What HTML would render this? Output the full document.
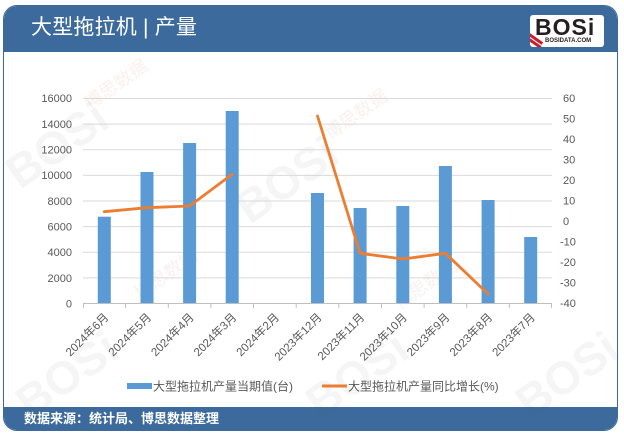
<!DOCTYPE html>
<html>
<head>
<meta charset="utf-8">
<style>
  html, body { margin:0; padding:0; background:#fff; }
  body { width:624px; height:435px; position:relative; overflow:hidden;
         font-family:"Liberation Sans","Noto Sans CJK SC",sans-serif; }
  .card { position:absolute; left:3px; top:5px; width:613px; height:424px;
          border:1px solid #3c6a9d; border-radius:14px; overflow:hidden; background:#fff; }
  .hdr { position:absolute; left:0; top:0; width:100%; height:46px; background:#3c6a9d; }
  .ftr { position:absolute; left:0; bottom:0; width:100%; height:23px; background:#3c6a9d; }
  .title { position:absolute; left:27px; top:7px; color:#fff; font-size:21px; line-height:30px;
           font-family:"Liberation Sans","Noto Sans CJK SC",sans-serif; letter-spacing:0.2px; }
  .src { position:absolute; left:20px; top:2px; color:#fff; font-size:13px; line-height:19px; font-weight:bold;
         font-family:"Liberation Sans","Noto Sans CJK SC",sans-serif; }
  .logo { position:absolute; left:526px; top:9px; width:74px; height:32px; background:#fff; border-radius:3px; overflow:hidden; }
  .logo .b { position:absolute; left:5px; top:0px; font-family:"Liberation Sans",sans-serif; font-weight:bold; font-size:23px;
             line-height:24px; color:#231f20; letter-spacing:1px; }
  .logo .c { position:absolute; left:15px; top:22px; font-family:"Liberation Sans",sans-serif; font-size:6px; font-weight:bold; color:#231f20; line-height:8px; }
  .logo .s { position:absolute; left:-4px; top:22px; width:18px; height:3px; background:#c8202f; transform:rotate(35deg); }
  .logo .s2 { position:absolute; left:-2px; top:27px; width:14px; height:3px; background:#c8202f; transform:rotate(35deg); }
  svg { position:absolute; left:0; top:0; }
</style>
</head>
<body>
<div class="card">
  <div class="hdr">
    <div class="title">大型拖拉机 | 产量</div>
    <div class="logo"><div class="b">BOSi</div><div class="c">BOSIDATA.COM</div><div class="s"></div><div class="s2"></div></div>
  </div>
  <div class="ftr"><div class="src">数据来源：统计局、博思数据整理</div></div>
</div>

<svg width="624" height="435" viewBox="0 0 624 435" xmlns="http://www.w3.org/2000/svg">
  <!-- faint watermarks -->
  <g opacity="0.06" font-family="Liberation Sans, sans-serif" font-weight="bold" fill="#555">
    <text x="20" y="190" font-size="46" transform="rotate(-35 20 190)">BOSi</text>
    <text x="250" y="225" font-size="46" transform="rotate(-35 250 225)">BOSi</text>
    <text x="30" y="420" font-size="46" transform="rotate(-35 30 420)">BOSi</text>
    <text x="320" y="420" font-size="46" transform="rotate(-35 320 420)">BOSi</text>
    <text x="530" y="420" font-size="46" transform="rotate(-35 530 420)">BOSi</text>
  </g>
  <g opacity="0.09" font-family="Liberation Sans, Noto Sans CJK SC, sans-serif" fill="#c0504d">
    <text x="90" y="110" font-size="18" transform="rotate(-35 90 110)">博思数据</text>
    <text x="330" y="140" font-size="18" transform="rotate(-35 330 140)">博思数据</text>
    <text x="140" y="300" font-size="18" transform="rotate(-35 140 300)">博思数据</text>
    <text x="400" y="310" font-size="18" transform="rotate(-35 400 310)">博思数据</text>
  </g>

  <!-- gridlines -->
  <g stroke="#d9d9d9" stroke-width="1">
    <line x1="83" y1="98.5" x2="552" y2="98.5"/>
    <line x1="83" y1="124.1" x2="552" y2="124.1"/>
    <line x1="83" y1="149.8" x2="552" y2="149.8"/>
    <line x1="83" y1="175.4" x2="552" y2="175.4"/>
    <line x1="83" y1="201" x2="552" y2="201"/>
    <line x1="83" y1="226.6" x2="552" y2="226.6"/>
    <line x1="83" y1="252.3" x2="552" y2="252.3"/>
    <line x1="83" y1="277.9" x2="552" y2="277.9"/>
  </g>
  <!-- bars -->
  <g fill="#5b9bd5">
    <rect x="97.8" y="216.7" width="13" height="86.3"/>
    <rect x="140.5" y="172" width="13" height="131"/>
    <rect x="183.1" y="143" width="13" height="160"/>
    <rect x="225.7" y="111" width="13" height="192"/>
    <rect x="311" y="193" width="13" height="110"/>
    <rect x="353.6" y="208" width="13" height="95"/>
    <rect x="396.3" y="206" width="13" height="97"/>
    <rect x="438.9" y="166" width="13" height="137"/>
    <rect x="481.6" y="200" width="13" height="103"/>
    <rect x="524.2" y="237" width="13" height="66"/>
  </g>
  <!-- axis -->
  <line x1="83" y1="303.5" x2="552" y2="303.5" stroke="#bfbfbf" stroke-width="1"/>
  <g stroke="#bfbfbf" stroke-width="1">
    <line x1="83.5" y1="303" x2="83.5" y2="308"/>
    <line x1="125.6" y1="303" x2="125.6" y2="308"/>
    <line x1="168.3" y1="303" x2="168.3" y2="308"/>
    <line x1="210.9" y1="303" x2="210.9" y2="308"/>
    <line x1="253.5" y1="303" x2="253.5" y2="308"/>
    <line x1="296.2" y1="303" x2="296.2" y2="308"/>
    <line x1="338.8" y1="303" x2="338.8" y2="308"/>
    <line x1="381.5" y1="303" x2="381.5" y2="308"/>
    <line x1="424.1" y1="303" x2="424.1" y2="308"/>
    <line x1="466.7" y1="303" x2="466.7" y2="308"/>
    <line x1="509.4" y1="303" x2="509.4" y2="308"/>
    <line x1="551.5" y1="303" x2="551.5" y2="308"/>
  </g>
  <!-- line series -->
  <g fill="none" stroke="#ed7d31" stroke-width="2.8" stroke-linejoin="round" stroke-linecap="round">
    <polyline points="104.3,211.7 147,207.7 189.6,206 232.2,174.3"/>
    <polyline points="317.5,116 360.1,253.3 402.8,259 445.4,253.3 488.1,294"/>
  </g>

  <!-- left axis labels -->
  <g font-family="Liberation Sans, sans-serif" font-size="11" fill="#595959" text-anchor="end">
    <text x="72" y="102">16000</text>
    <text x="72" y="128">14000</text>
    <text x="72" y="153.5">12000</text>
    <text x="72" y="179">10000</text>
    <text x="72" y="205">8000</text>
    <text x="72" y="230.5">6000</text>
    <text x="72" y="256">4000</text>
    <text x="72" y="282">2000</text>
    <text x="72" y="307.5">0</text>
  </g>
  <!-- right axis labels -->
  <g font-family="Liberation Sans, sans-serif" font-size="11" fill="#595959" text-anchor="start">
    <text x="563" y="102">60</text>
    <text x="563" y="122.5">50</text>
    <text x="563" y="143">40</text>
    <text x="563" y="163.5">30</text>
    <text x="563" y="184">20</text>
    <text x="563" y="204.5">10</text>
    <text x="563" y="225">0</text>
    <text x="560" y="245.5">-10</text>
    <text x="560" y="266">-20</text>
    <text x="560" y="286.5">-30</text>
    <text x="560" y="307">-40</text>
  </g>
  <!-- category labels -->
  <g font-family="Liberation Sans, Noto Sans CJK SC, sans-serif" font-size="11.5" fill="#595959" text-anchor="end">
    <text transform="translate(109.3,318) rotate(-45)">2024年6月</text>
    <text transform="translate(152,318) rotate(-45)">2024年5月</text>
    <text transform="translate(194.6,318) rotate(-45)">2024年4月</text>
    <text transform="translate(237.2,318) rotate(-45)">2024年3月</text>
    <text transform="translate(279.9,318) rotate(-45)">2024年2月</text>
    <text transform="translate(322.5,318) rotate(-45)">2023年12月</text>
    <text transform="translate(365.1,318) rotate(-45)">2023年11月</text>
    <text transform="translate(407.8,318) rotate(-45)">2023年10月</text>
    <text transform="translate(450.4,318) rotate(-45)">2023年9月</text>
    <text transform="translate(493.1,318) rotate(-45)">2023年8月</text>
    <text transform="translate(535.7,318) rotate(-45)">2023年7月</text>
  </g>

  <!-- legend -->
  <rect x="127" y="383" width="25" height="6" fill="#5b9bd5"/>
  <text x="153" y="390.5" font-family="Liberation Sans, Noto Sans CJK SC, sans-serif" font-size="12" fill="#595959">大型拖拉机产量当期值(台)</text>
  <line x1="322" y1="386" x2="347" y2="386" stroke="#ed7d31" stroke-width="3"/>
  <text x="348" y="390.5" font-family="Liberation Sans, Noto Sans CJK SC, sans-serif" font-size="12" fill="#595959">大型拖拉机产量同比增长(%)</text>
</svg>
</body>
</html>
